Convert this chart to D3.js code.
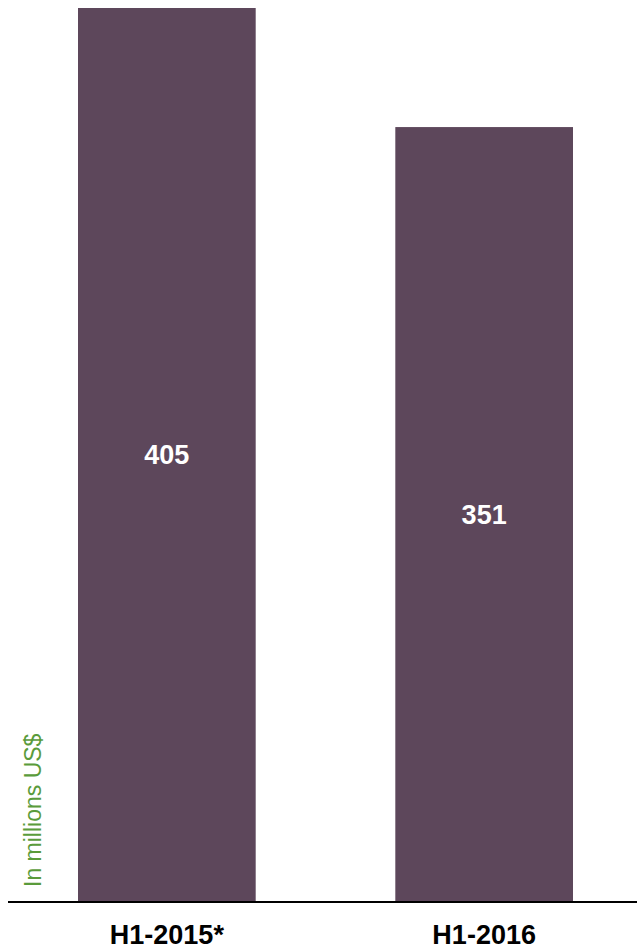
<!DOCTYPE html>
<html>
<head>
<meta charset="utf-8">
<script src="https://cdn.jsdelivr.net/npm/d3@7"></script>
<style>
  html, body { margin: 0; padding: 0; background: #fff; }
  svg { display: block; }
</style>
</head>
<body>
<script>
const categories = ["H1-2015*", "H1-2016"];
const values = [405, 351];
const axisTitle = "In millions US$";

const W = 637, H = 950;
const svg = d3.select("body").append("svg").attr("width", W).attr("height", H);

const baseY = 901;
const y = d3.scaleLinear().domain([0, 405]).range([baseY, 8]);
const x = d3.scaleBand().domain(categories).range([78, 573]).paddingInner(0.44).paddingOuter(0);

svg.selectAll("rect.bar").data(values).enter().append("rect")
  .attr("class", "bar")
  .attr("x", (d, i) => x(categories[i]))
  .attr("width", x.bandwidth())
  .attr("y", d => y(d))
  .attr("height", d => y(0) - y(d))
  .attr("fill", "#5d475b");

svg.selectAll("text.val").data(values).enter().append("text")
  .attr("class", "val")
  .attr("x", (d, i) => x(categories[i]) + x.bandwidth() / 2)
  .attr("y", d => (y(d) + y(0)) / 2)
  .attr("dy", "0.36em")
  .attr("text-anchor", "middle")
  .attr("fill", "#fff")
  .style("font-family", "Liberation Sans, Arial, sans-serif")
  .style("font-weight", "bold")
  .style("font-size", "27px")
  .text(d => d);

// baseline
svg.append("line")
  .attr("x1", 8).attr("x2", W)
  .attr("y1", baseY + 1).attr("y2", baseY + 1)
  .attr("stroke", "#000").attr("stroke-width", 2);

const xAxis = svg.append("g")
  .attr("transform", `translate(0,${baseY + 1})`)
  .call(d3.axisBottom(x).tickSize(0).tickPadding(0));
xAxis.select(".domain").remove();
xAxis.selectAll("text")
  .attr("y", 42)
  .attr("dy", 0)
  .attr("fill", "#000")
  .style("font-family", "Liberation Sans, Arial, sans-serif")
  .style("font-weight", "bold")
  .style("font-size", "27px");

svg.append("text")
  .attr("transform", "translate(41,887) rotate(-90)")
  .attr("text-anchor", "start")
  .attr("fill", "#5a9b3b")
  .style("font-family", "Liberation Sans, Arial, sans-serif")
  .style("font-size", "23px")
  .text(axisTitle);
</script>
</body>
</html>
